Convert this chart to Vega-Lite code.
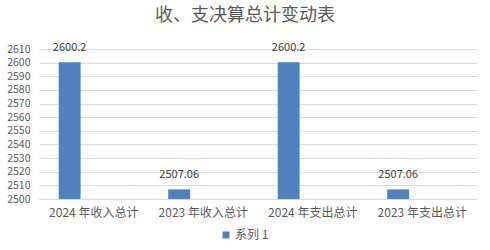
{
  "$schema": "https://vega.github.io/schema/vega-lite/v6.json",
  "width": 438,
  "height": 150,
  "autosize": "none",
  "padding": {"left": 39, "top": 49, "right": 13, "bottom": 51},
  "background": "white",
  "title": {
    "text": "收、支决算总计变动表",
    "font": "Noto Sans CJK SC",
    "fontSize": 18,
    "fontWeight": "normal",
    "color": "#595959",
    "dx": -13,
    "offset": 17
  },
  "data": {
    "values": [
      {"cat": "2024 年收入总计", "series": "系列 1", "value": 2600.2},
      {"cat": "2023 年收入总计", "series": "系列 1", "value": 2507.06},
      {"cat": "2024 年支出总计", "series": "系列 1", "value": 2600.2},
      {"cat": "2023 年支出总计", "series": "系列 1", "value": 2507.06}
    ]
  },
  "encoding": {
    "x": {
      "field": "cat", "type": "nominal", "sort": null,
      "scale": {"paddingInner": 0, "paddingOuter": 0, "round": false},
      "axis": {
        "title": null, "labelAngle": 0, "ticks": false, "grid": false,
        "domainColor": "#d9d9d9", "labelPadding": 8, "labelFontSize": 12,
        "labelColor": "#595959", "labelFont": "Noto Sans CJK SC"
      }
    },
    "xOffset": {
      "field": "series", "type": "nominal",
      "scale": {"domain": ["系列 1", "系列 2", "系列 3"], "paddingInner": 0, "paddingOuter": 1.33, "align": 0.45, "round": false}
    },
    "y": {
      "field": "value", "type": "quantitative",
      "scale": {"domain": [2500, 2610], "zero": false, "nice": false},
      "axis": {
        "title": null, "domain": false, "ticks": false, "labelPadding": 9, "format": "d",
        "values": [2500, 2510, 2520, 2530, 2540, 2550, 2560, 2570, 2580, 2590, 2600, 2610],
        "gridColor": "#d9d9d9", "labelFontSize": 10.5, "labelColor": "#595959",
        "labelFont": "Noto Sans CJK SC"
      }
    }
  },
  "layer": [
    {
      "mark": {"type": "bar"},
      "encoding": {
        "y2": {"datum": 2500},
        "color": {
          "field": "series", "type": "nominal",
          "scale": {"range": ["#4f81bd"]},
          "legend": {
            "orient": "none", "legendX": 181, "legendY": 180, "title": null,
            "symbolType": "square", "symbolSize": 49, "symbolStrokeWidth": 0,
            "labelFontSize": 12, "labelColor": "#595959", "labelFont": "Noto Sans CJK SC",
            "labelOffset": 3
          }
        }
      }
    },
    {
      "mark": {"type": "text", "baseline": "bottom", "dy": -9, "fontSize": 11, "font": "Noto Sans CJK SC", "color": "#404040"},
      "encoding": {"text": {"field": "value", "type": "quantitative"}}
    }
  ],
  "config": {"view": {"stroke": null}}
}
